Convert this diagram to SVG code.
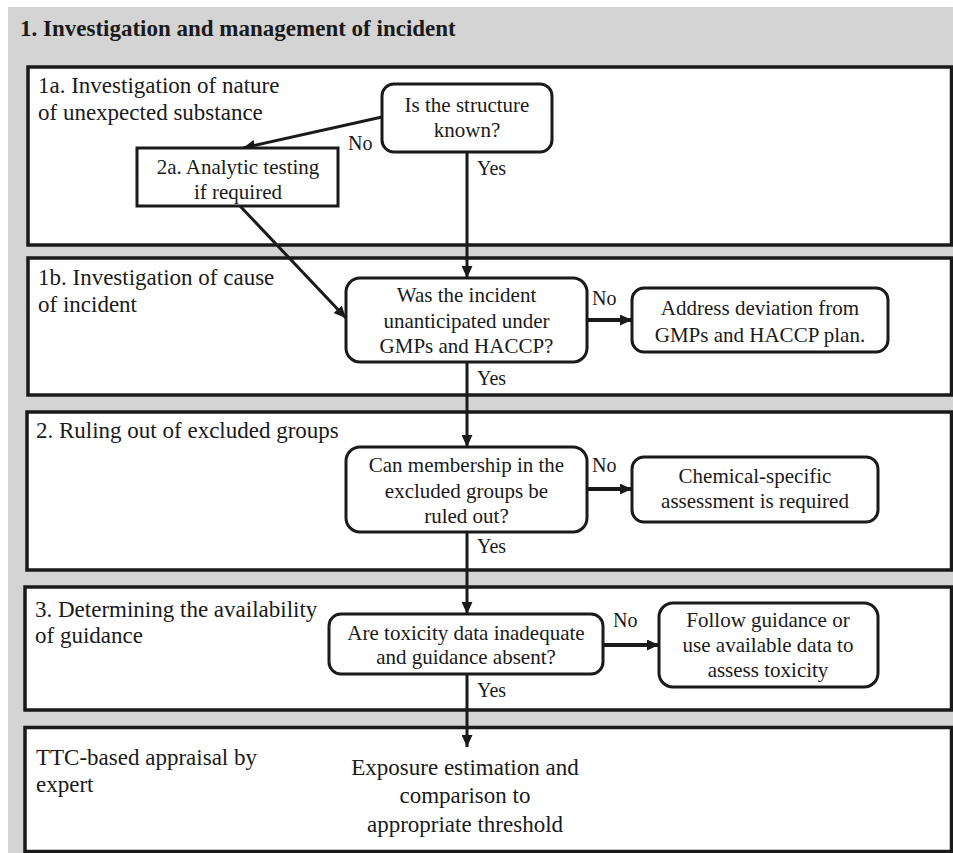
<svg xmlns="http://www.w3.org/2000/svg" width="953" height="853" viewBox="0 0 953 853">
<defs>
<marker id="ah" markerUnits="userSpaceOnUse" markerWidth="12" markerHeight="11" refX="12" refY="5.5" orient="auto"><path d="M0,0 L12,5.5 L0,11 z" fill="#1a1a1a"/></marker>
<style>
.sec{fill:#fff;stroke:#1a1a1a;stroke-width:3.5}
.node{fill:#fff;stroke:#1a1a1a;stroke-width:3}
.t{fill:#1a1a1a}
.lab{font-size:23px}
.nt{font-size:21px;text-anchor:middle}
.yn{font-size:20px}
.ln{stroke:#1a1a1a;stroke-width:3;fill:none}
.lnh{stroke:#1a1a1a;stroke-width:4;fill:none}
</style>
</defs>
<rect x="0" y="0" width="953" height="853" fill="#fff"/>
<rect x="8" y="7" width="945" height="846" fill="#d4d4d4"/>
<g font-family="Liberation Serif, serif">
<text class="t" x="20" y="36" font-size="23" font-weight="bold">1. Investigation and management of incident</text>

<g id="sec1a"><rect class="sec" x="28" y="67" width="923.5" height="178"/>
<text class="t lab" x="38" y="93">1a. Investigation of nature</text>
<text class="t lab" x="38" y="120">of unexpected substance</text></g>
<g id="sec1b"><rect class="sec" x="28" y="258" width="923.5" height="137"/>
<text class="t lab" x="38" y="285">1b. Investigation of cause</text>
<text class="t lab" x="38" y="312">of incident</text></g>
<g id="sec2"><rect class="sec" x="27" y="412" width="924.5" height="158"/>
<text class="t lab" x="36" y="438">2. Ruling out of excluded groups</text></g>
<g id="sec3"><rect class="sec" x="25" y="587" width="926.5" height="123"/>
<text class="t lab" x="35" y="617">3. Determining the availability</text>
<text class="t lab" x="35" y="643">of guidance</text></g>
<g id="secTTC"><rect class="sec" x="25" y="727.5" width="926.5" height="124"/>
<text class="t lab" x="36" y="765">TTC-based appraisal by</text>
<text class="t lab" x="36" y="792">expert</text></g>

<g id="connectors">
<line class="ln" x1="382" y1="117" x2="243" y2="148" marker-end="url(#ah)"/>
<line class="ln" x1="467" y1="152" x2="467" y2="278" marker-end="url(#ah)"/>
<line class="ln" x1="240" y1="206" x2="346" y2="318" marker-end="url(#ah)"/>
<line class="lnh" x1="587" y1="320" x2="632" y2="320" marker-end="url(#ah)"/>
<line class="ln" x1="467" y1="362" x2="467" y2="447" marker-end="url(#ah)"/>
<line class="lnh" x1="587" y1="489" x2="632" y2="489" marker-end="url(#ah)"/>
<line class="ln" x1="467" y1="532" x2="467" y2="614" marker-end="url(#ah)"/>
<line class="lnh" x1="603" y1="645" x2="659" y2="645" marker-end="url(#ah)"/>
<line class="ln" x1="467" y1="674" x2="467" y2="747" marker-end="url(#ah)"/>
<text class="t yn" x="348" y="150">No</text>
<text class="t yn" x="477" y="175">Yes</text>
<text class="t yn" x="592" y="305">No</text>
<text class="t yn" x="477" y="385">Yes</text>
<text class="t yn" x="592" y="472">No</text>
<text class="t yn" x="477" y="553">Yes</text>
<text class="t yn" x="613" y="627">No</text>
<text class="t yn" x="477" y="697">Yes</text>
</g>

<g id="n_known"><rect class="node" x="382" y="84" width="170" height="68" rx="12"/>
<text class="t nt" x="467" y="112">Is the structure</text>
<text class="t nt" x="467" y="137">known?</text></g>
<g id="n_analytic"><rect class="node" x="137" y="148" width="201" height="58"/>
<text class="t nt" x="238" y="174">2a. Analytic testing</text>
<text class="t nt" x="238" y="199">if required</text></g>
<g id="n_unanticipated"><rect class="node" x="346" y="278" width="241" height="84" rx="14"/>
<text class="t nt" x="466.5" y="302">Was the incident</text>
<text class="t nt" x="466.5" y="328">unanticipated under</text>
<text class="t nt" x="466.5" y="353">GMPs and HACCP?</text></g>
<g id="n_address"><rect class="node" x="632" y="288" width="256" height="64" rx="12"/>
<text class="t nt" x="760" y="315">Address deviation from</text>
<text class="t nt" x="760" y="342">GMPs and HACCP  plan.</text></g>
<g id="n_membership"><rect class="node" x="346" y="447" width="241" height="85" rx="14"/>
<text class="t nt" x="466.5" y="472">Can membership in the</text>
<text class="t nt" x="466.5" y="498">excluded groups be</text>
<text class="t nt" x="466.5" y="523">ruled out?</text></g>
<g id="n_chemical"><rect class="node" x="632" y="457" width="246" height="65" rx="12"/>
<text class="t nt" x="755" y="483">Chemical-specific</text>
<text class="t nt" x="755" y="508">assessment is required</text></g>
<g id="n_toxicity"><rect class="node" x="329" y="614" width="274" height="60" rx="12"/>
<text class="t nt" x="466" y="640">Are toxicity data inadequate</text>
<text class="t nt" x="466" y="664">and guidance absent?</text></g>
<g id="n_follow"><rect class="node" x="659" y="603" width="219" height="84" rx="14"/>
<text class="t nt" x="768" y="627">Follow guidance or</text>
<text class="t nt" x="768" y="652">use available data to</text>
<text class="t nt" x="768" y="677">assess toxicity</text></g>
<g id="n_exposure">
<text class="t lab" x="465" y="775" text-anchor="middle">Exposure estimation and</text>
<text class="t lab" x="465" y="803" text-anchor="middle">comparison to</text>
<text class="t lab" x="465" y="832" text-anchor="middle">appropriate threshold</text></g>
</g>
</svg>
